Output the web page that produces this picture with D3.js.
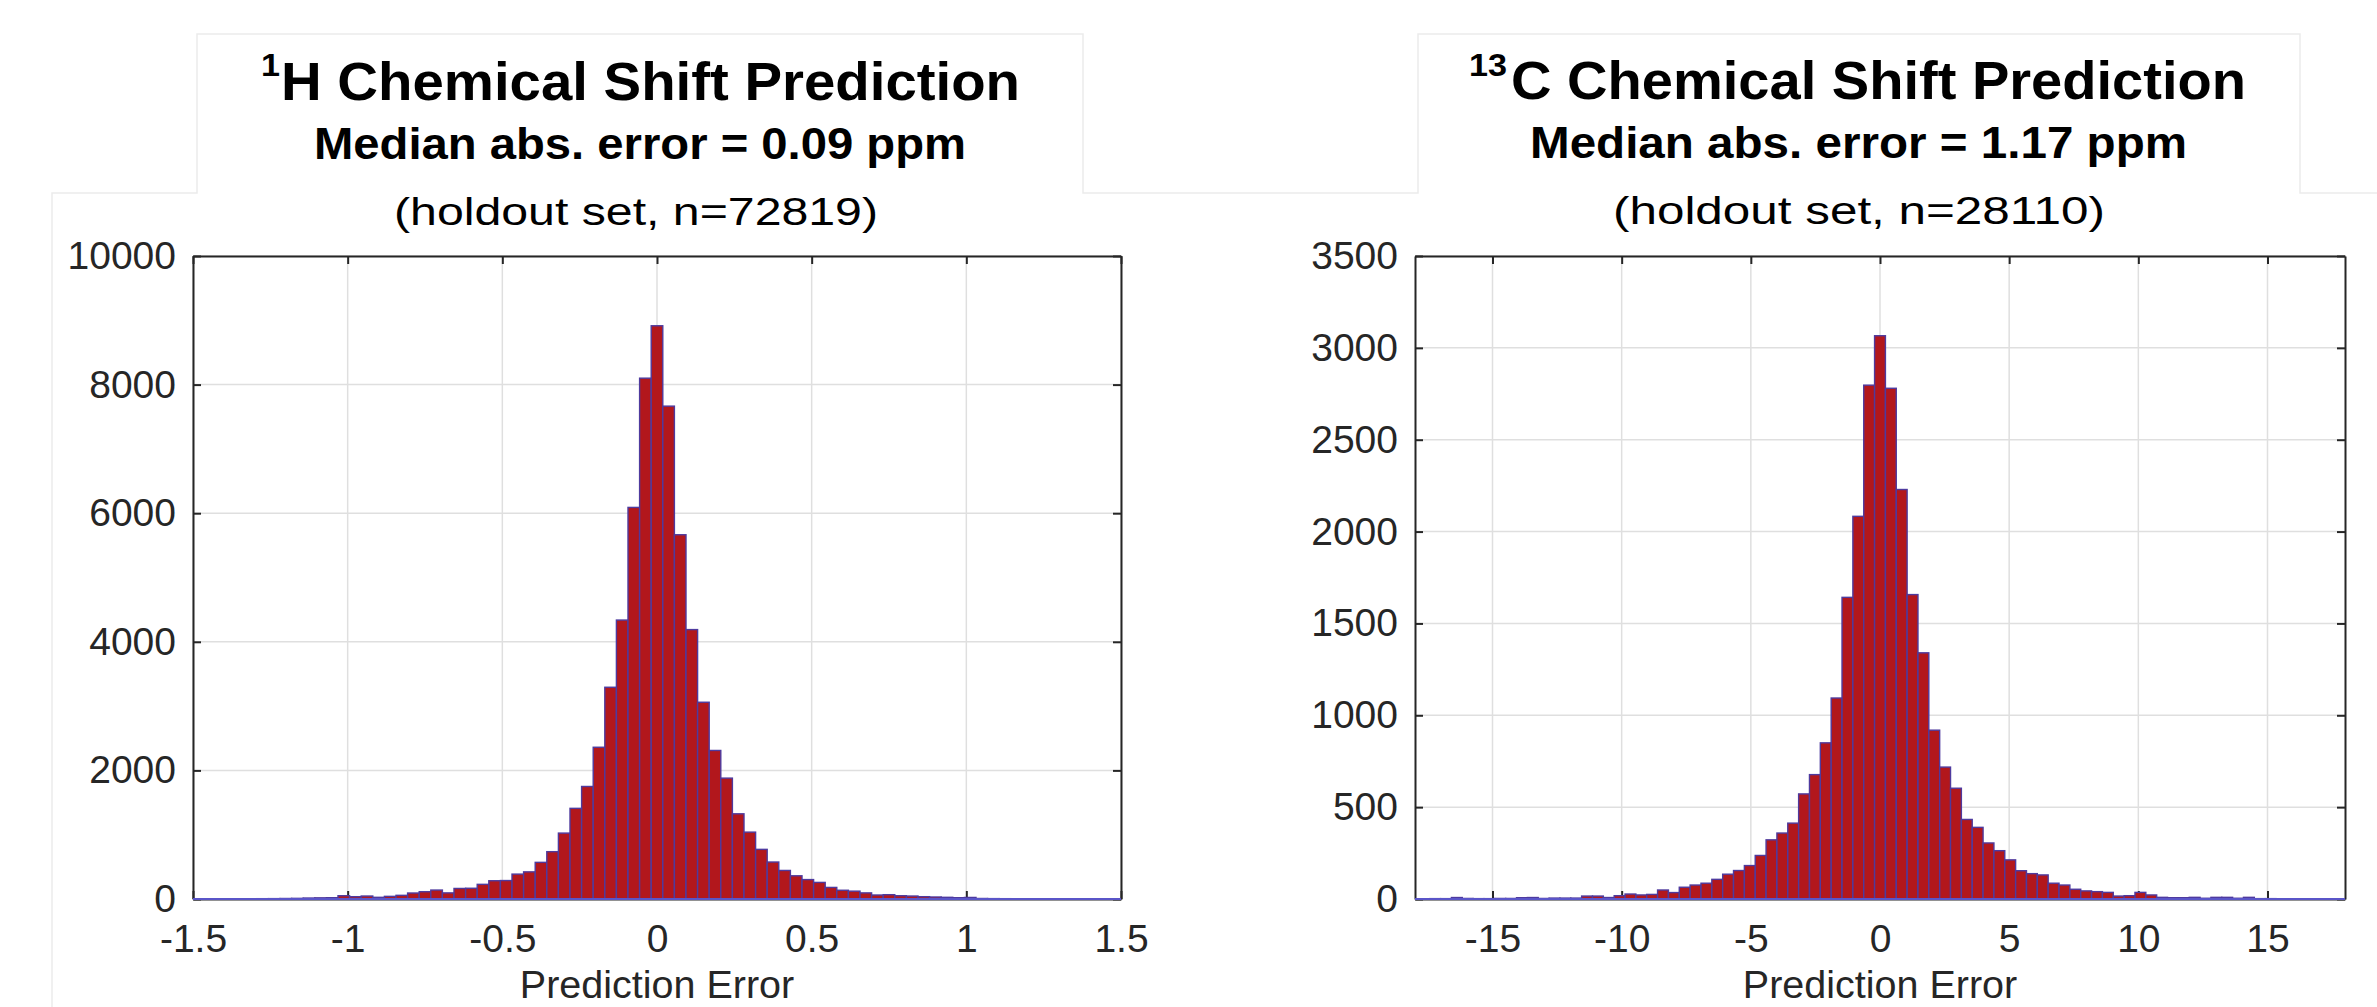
<!DOCTYPE html>
<html><head><meta charset="utf-8">
<script src="https://cdn.jsdelivr.net/npm/d3@7"></script>
<style>body{margin:0;background:#fff} svg{display:block}</style>
</head><body><svg id="c" width="2377" height="1007"></svg>
<script>
// ---------- data ----------
// 1H histogram: bins of width hBinWidth, first bin centred at hFirstCenter
const hBinWidth = 0.0375;
const hFirstCenter = -1.5;
const hCounts = [
  2, 2, 2, 3, 3, 4, 5, 6, 8, 10,
  15, 18, 20, 51, 36, 46, 26, 41, 57, 93,
  113, 139, 95, 164, 167, 228, 284, 287, 387, 422,
  570, 736, 1025, 1410, 1750, 2360, 3293, 4338, 6090, 8100,
  8915,
  7665, 5665, 4190, 3060, 2310, 1880, 1325, 1040, 772, 575,
  444, 361, 302, 258, 180, 136, 122, 95, 62, 67,
  51, 46, 36, 31, 26, 20, 24, 8, 6, 5,
  4, 4, 3, 3, 2, 2, 2, 1, 1, 1
];
const hXTicks = [-1.5, -1, -0.5, 0, 0.5, 1, 1.5];
const hYTicks = [0, 2000, 4000, 6000, 8000, 10000];
const hXDomain = [-1.5, 1.5];
const hYDomain = [0, 10000];

// 13C histogram
const cBinWidth = 0.42;
const cFirstCenter = -18.06;
const cCounts = [
  1, 1, 2, 2, 8, 3, 2, 2, 3, 3,
  7, 8, 3, 5, 5, 5, 16, 16, 8, 18,
  27, 22, 25, 49, 35, 64, 76, 86, 107, 135,
  155, 182, 237, 322, 359, 413, 572, 677, 850, 1094,
  1642, 2083, 2797,
  3066,
  2780, 2229, 1657, 1340, 919, 718, 603, 433, 390, 305,
  263, 213, 154, 138, 131, 86, 76, 53, 44, 40,
  36, 16, 18, 36, 22, 9, 7, 7, 9, 4,
  9, 9, 4, 9, 2, 2, 1, 1, 1, 1,
  1, 1, 1
];
const cXTicks = [-15, -10, -5, 0, 5, 10, 15];
const cYTicks = [0, 500, 1000, 1500, 2000, 2500, 3000, 3500];
const cXDomain = [-18, 18];
const cYDomain = [0, 3500];

// ---------- titles ----------
const titles = [
  {sup: "1", main: "H Chemical Shift Prediction",
   line2: "Median abs. error = 0.09 ppm", line3: "(holdout set, n=72819)"},
  {sup: "13", main: "C Chemical Shift Prediction",
   line2: "Median abs. error = 1.17 ppm", line3: "(holdout set, n=28110)"}
];
const xLabel = "Prediction Error";

// ---------- drawing ----------
const svg = d3.select("#c");
const AX = "#262626", GRID = "#dfdfdf", FILL = "#b2171c", EDGE = "#4e3a9e";
const SANS = "Liberation Sans, Arial, sans-serif";

// faint figure frame lines
svg.append("path")
  .attr("d", "M52,1007 L52,193 L197,193 L197,34 L1083,34 L1083,193 L1418,193 L1418,34 L2300,34 L2300,193 L2377,193")
  .attr("fill", "none").attr("stroke", "#ebebeb").attr("stroke-width", 1.5);

const panels = [
  {x0: 193, x1: 1121, counts: hCounts, bw: hBinWidth, c0: hFirstCenter,
   xt: hXTicks, yt: hYTicks, xd: hXDomain, yd: hYDomain,
   title: titles[0],
   t: {supX: 261, mainX: 281, mainW: 739, l1y: 100, l2x: 314, l2w: 652, l2y: 159, l3x: 394, l3w: 484, l3y: 225}},
  {x0: 1415, x1: 2345, counts: cCounts, bw: cBinWidth, c0: cFirstCenter,
   xt: cXTicks, yt: cYTicks, xd: cXDomain, yd: cYDomain,
   title: titles[1],
   t: {supX: 1469, mainX: 1511, mainW: 735, l1y: 99, l2x: 1530, l2w: 657, l2y: 158, l3x: 1613, l3w: 492, l3y: 224}}
];
const yTop = 256, yBot = 899;

panels.forEach((p, pi) => {
  const x = d3.scaleLinear().domain(p.xd).range([p.x0, p.x1]);
  const y = d3.scaleLinear().domain(p.yd).range([yBot, yTop]);
  const g = svg.append("g");

  // titles
  const tt = p.t;
  g.append("text").attr("x", tt.supX).attr("y", 76)
    .attr("font-family", SANS).attr("font-weight", "bold")
    .attr("font-size", 31).attr("fill", "#000")
    .attr("textLength", p.title.sup.length * 19).attr("lengthAdjust", "spacingAndGlyphs")
    .text(p.title.sup);
  g.append("text").attr("x", tt.mainX).attr("y", tt.l1y)
    .attr("font-family", SANS).attr("font-weight", "bold")
    .attr("font-size", 53).attr("fill", "#000")
    .attr("textLength", tt.mainW).attr("lengthAdjust", "spacingAndGlyphs")
    .text(p.title.main);
  g.append("text").attr("x", tt.l2x).attr("y", tt.l2y)
    .attr("font-family", SANS).attr("font-weight", "bold")
    .attr("font-size", 44).attr("fill", "#000")
    .attr("textLength", tt.l2w).attr("lengthAdjust", "spacingAndGlyphs")
    .text(p.title.line2);
  g.append("text").attr("x", tt.l3x).attr("y", tt.l3y)
    .attr("font-family", SANS)
    .attr("font-size", 38).attr("fill", "#000")
    .attr("textLength", tt.l3w).attr("lengthAdjust", "spacingAndGlyphs")
    .text(p.title.line3);

  // grid
  g.append("g").selectAll("line").data(p.xt).join("line")
    .attr("x1", d => x(d)).attr("x2", d => x(d)).attr("y1", yTop).attr("y2", yBot)
    .attr("stroke", GRID).attr("stroke-width", 1.5);
  g.append("g").selectAll("line").data(p.yt).join("line")
    .attr("y1", d => y(d)).attr("y2", d => y(d)).attr("x1", p.x0).attr("x2", p.x1)
    .attr("stroke", GRID).attr("stroke-width", 1.5);

  // axes
  const fmt = d => String(d);
  const styleAxis = sel => {
    sel.select(".domain").attr("stroke", AX).attr("stroke-width", 2);
    sel.selectAll(".tick line").attr("stroke", AX).attr("stroke-width", 2);
    sel.selectAll("text").attr("fill", AX).attr("font-family", SANS).attr("font-size", 39);
  };
  g.append("g").attr("transform", `translate(0,${yBot})`)
    .call(d3.axisBottom(x).tickValues(p.xt).tickFormat(fmt).tickSize(-8).tickSizeOuter(0).tickPadding(25))
    .call(styleAxis);
  g.append("g").attr("transform", `translate(0,${yTop})`)
    .call(d3.axisTop(x).tickValues(p.xt).tickFormat("").tickSize(-8).tickSizeOuter(0))
    .call(styleAxis);
  g.append("g").attr("transform", `translate(${p.x0},0)`)
    .call(d3.axisLeft(y).tickValues(p.yt).tickFormat(fmt).tickSize(-8).tickSizeOuter(0).tickPadding(17))
    .call(styleAxis);
  g.append("g").attr("transform", `translate(${p.x1},0)`)
    .call(d3.axisRight(y).tickValues(p.yt).tickFormat("").tickSize(-8).tickSizeOuter(0))
    .call(styleAxis);

  // bars
  const clipId = "clip" + pi;
  svg.append("clipPath").attr("id", clipId).append("rect")
    .attr("x", p.x0).attr("y", yTop - 2).attr("width", p.x1 - p.x0).attr("height", yBot - yTop + 4);
  const bins = p.counts.map((v, i) => ({c: p.c0 + i * p.bw, v}));
  g.append("g").attr("clip-path", `url(#${clipId})`)
    .selectAll("rect").data(bins).join("rect")
    .attr("x", d => x(d.c - p.bw / 2))
    .attr("width", d => x(d.c + p.bw / 2) - x(d.c - p.bw / 2))
    .attr("y", d => y(d.v))
    .attr("height", d => yBot - y(d.v))
    .attr("fill", FILL).attr("stroke", EDGE).attr("stroke-width", 1.4);
  // zero line of the histogram
  g.append("line").attr("x1", p.x0).attr("x2", p.x1).attr("y1", yBot).attr("y2", yBot)
    .attr("stroke", "#5a55c8").attr("stroke-width", 2);

  // x label
  g.append("text").attr("x", (p.x0 + p.x1) / 2).attr("y", 998)
    .attr("text-anchor", "middle").attr("fill", AX)
    .attr("font-family", SANS).attr("font-size", 39.5)
    .text(xLabel);
});
</script></body></html>
